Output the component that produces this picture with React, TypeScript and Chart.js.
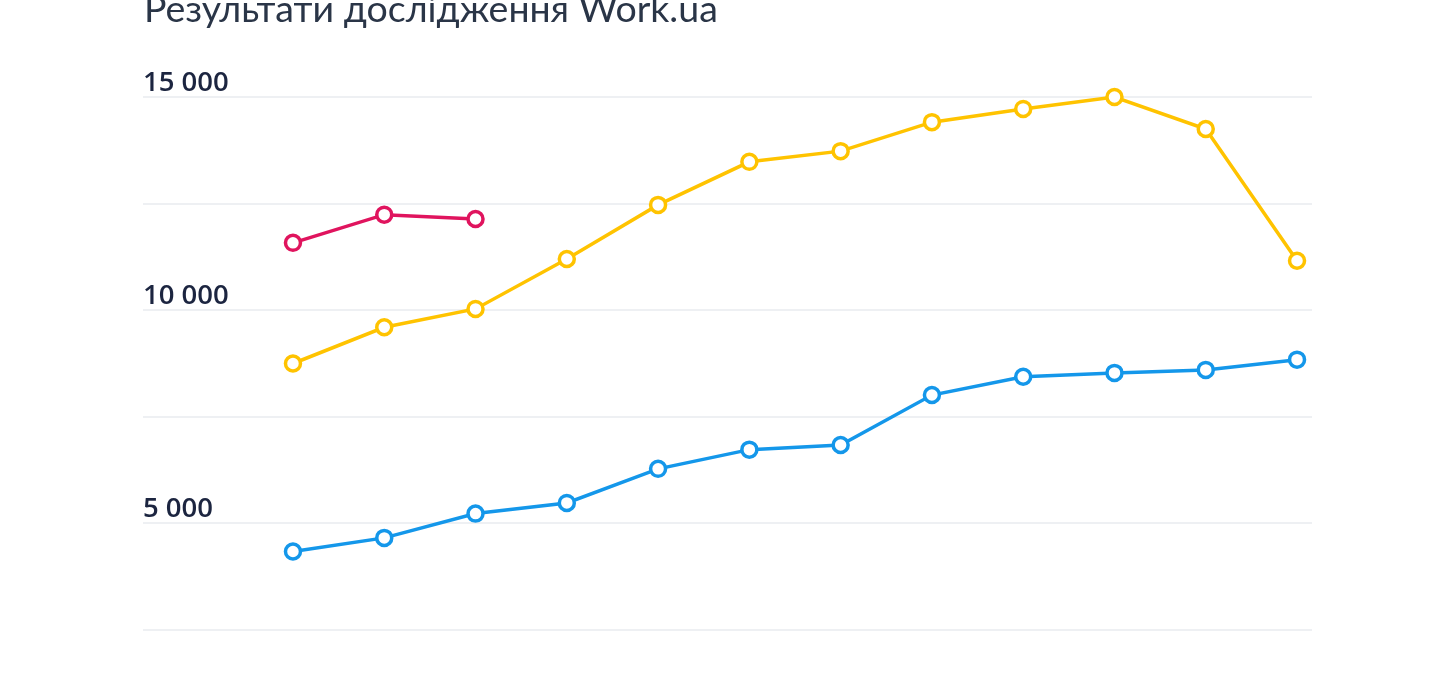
import React, { useEffect, useRef } from "react";
import { Chart, registerables } from "chart.js";

Chart.register(...registerables);

const TITLE = "Результати дослідження Work.ua";
const categories = ["1", "2", "3", "4", "5", "6", "7", "8", "9", "10", "11", "12"];
const seriesBlue = [4340, 4660, 5230, 5480, 6280, 6730, 6840, 8010, 8440, 8530, 8600, 8840];
const seriesYellow = [8750, 9600, 10030, 11200, 12470, 13480, 13730, 14410, 14720, 15000, 14250, 11160];
const seriesPink = [11580, 12240, 12140];
const tickLabels: Record<number, string> = { 5000: "5 000", 10000: "10 000", 15000: "15 000" };

const BLUE = "#1497ea";
const YELLOW = "#ffc300";
const PINK = "#e0145e";

function pts(values: number[]) {
  return values.map((v, i) => ({ x: i, y: v, label: categories[i] }));
}

const titlePlugin = {
  id: "topTitle",
  afterDraw(chart: any) {
    const ctx = chart.ctx;
    ctx.save();
    ctx.font = "400 37.5px Lato";
    ctx.fillStyle = "#2a3547";
    ctx.textAlign = "left";
    ctx.textBaseline = "alphabetic";
    ctx.fillText(TITLE, chart.chartArea.left + 1, 22);
    ctx.restore();
  },
};

export default function App() {
  const ref = useRef<HTMLCanvasElement | null>(null);
  useEffect(() => {
    if (!ref.current) return;
    const mk = (label: string, values: number[], color: string) => ({
      label,
      data: pts(values),
      borderColor: color,
      backgroundColor: "#ffffff",
      borderWidth: 3.5,
      pointRadius: 7.5,
      pointBorderWidth: 3.5,
      pointBackgroundColor: "#ffffff",
      pointBorderColor: color,
      tension: 0,
      clip: false as any,
    });
    const chart = new Chart(ref.current, {
      type: "line",
      data: {
        datasets: [
          mk("A", seriesBlue, BLUE),
          mk("B", seriesYellow, YELLOW),
          mk("C", seriesPink, PINK),
        ],
      },
      plugins: [titlePlugin],
      options: {
        animation: false,
        responsive: false,
        maintainAspectRatio: false,
        layout: { padding: { left: 143, right: 128, top: 97, bottom: 70 } },
        plugins: { legend: { display: false }, tooltip: { enabled: false }, title: { display: false } },
        scales: {
          x: {
            type: "linear",
            display: false,
            min: -1.643,
            max: 11.164,
          },
          y: {
            min: 2500,
            max: 15000,
            border: { display: false },
            grid: { color: "#eef0f3", lineWidth: 2, drawTicks: false },
            ticks: {
              stepSize: 2500,
              mirror: true,
              padding: 0,
              labelOffset: -14,
              color: "#1c2540",
              font: { family: "Open Sans", size: 27.5, weight: "600" },
              callback: (v: any) => tickLabels[Number(v)] ?? "",
            },
          },
        },
      },
    });
    return () => chart.destroy();
  }, []);
  return (
    <div style={{ position: "absolute", left: 0, top: 0, width: 1440, height: 700, background: "#fff" }}>
      <canvas ref={ref} width={1440} height={700} style={{ width: 1440, height: 700 }} />
    </div>
  );
}
